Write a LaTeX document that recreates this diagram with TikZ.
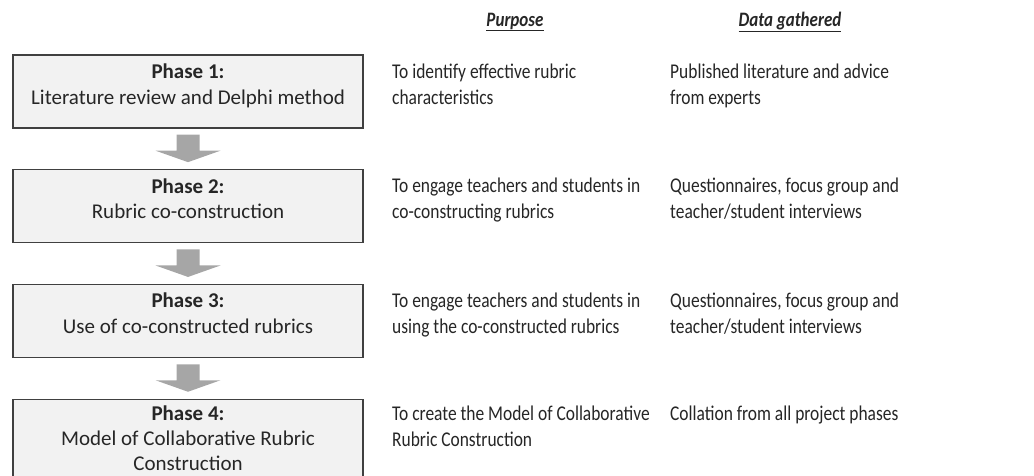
\documentclass[tikz,border=0pt]{standalone}
\usepackage{fontspec}
\setmainfont{Carlito}
\newfontfamily\colfont[FakeStretch=0.83]{Carlito}
\usetikzlibrary{positioning,calc}
\definecolor{boxfill}{HTML}{F2F2F2}
\definecolor{boxline}{HTML}{404040}
\definecolor{arrowgray}{HTML}{A6A6A6}
\definecolor{textgray}{HTML}{262626}

\begin{document}
\begin{tikzpicture}[x=1pt,y=-1pt,
  phasebox/.style={draw=boxline,line width=1.3pt,fill=boxfill,minimum width=350pt,minimum height=73pt,inner sep=0pt},
  phasetext/.style={anchor=north,inner sep=0pt,align=center,text=textgray,font=\fontsize{21}{25.5}\selectfont},
  coltext/.style={anchor=north west,inner sep=0pt,align=left,text=textgray,font=\colfont\fontsize{21}{25.5}\selectfont},
  colhead/.style={inner sep=0pt,text=textgray,font=\colfont\fontsize{20.5}{24}\selectfont\bfseries\itshape},
  blockarrow/.style={fill=arrowgray,draw=none}]
\useasboundingbox (0,0) rectangle (1034,475);
\clip (0,0) rectangle (1034,475);
%Kaesten links
\node[phasebox] (phase1) at (188,91.5) {};
\node[phasebox,below=40.5pt of phase1] (phase2) {};
\node[phasebox,below=40.5pt of phase2] (phase3) {};
\node[phasebox,below=40.5pt of phase3,minimum height=100pt,anchor=north] (phase4) {};
\node[phasetext] (title1) at ($(phase1.north)+(0,9.5)$) {\textbf{Phase 1:}\\Literature review and Delphi method};
\node[phasetext] (title2) at ($(phase2.north)+(0,9)$) {\textbf{Phase 2:}\\Rubric co-construction};
\node[phasetext] (title3) at ($(phase3.north)+(0,9)$) {\textbf{Phase 3:}\\Use of co-constructed rubrics};
\node[phasetext,font=\fontsize{21}{25}\selectfont] (title4) at ($(phase4.north)+(0,7)$) {\textbf{Phase 4:}\\Model of Collaborative Rubric\\Construction};
%Pfeile zwischen den Phasen
\foreach \a/\b in {phase1/phase2,phase2/phase3,phase3/phase4}{
\fill[blockarrow] ($(\a.south)+(-11.5,6)$) -- ++(23,0) -- ++(0,16) -- ++(21,0) -- ($(\b.north)+(0,-7)$) -- ($(\a.south)+(-32.5,22)$) -- ++(21,0) -- cycle;
}
%Spalten
\node[colhead] (purposehead) at (515,22) {\underline{Purpose}};
\node[colhead] (datahead) at (790,22) {\underline{Data gathered}};
\coordinate (purposecol) at (392,0);
\coordinate (datacol) at (670,0);
\node[coltext] (purpose1) at (title1.north -| purposecol) {To identify effective rubric\\characteristics};
\node[coltext] (purpose2) at (title2.north -| purposecol) {To engage teachers and students in\\co-constructing rubrics};
\node[coltext] (purpose3) at (title3.north -| purposecol) {To engage teachers and students in\\using the co-constructed rubrics};
\node[coltext] (purpose4) at (title4.north -| purposecol) {To create the Model of Collaborative\\Rubric Construction};
\node[coltext] (data1) at (title1.north -| datacol) {Published literature and advice\\from experts};
\node[coltext] (data2) at (title2.north -| datacol) {Questionnaires, focus group and\\teacher/student interviews};
\node[coltext] (data3) at (title3.north -| datacol) {Questionnaires, focus group and\\teacher/student interviews};
\node[coltext] (data4) at (title4.north -| datacol) {Collation from all project phases};
\end{tikzpicture}
\end{document}
